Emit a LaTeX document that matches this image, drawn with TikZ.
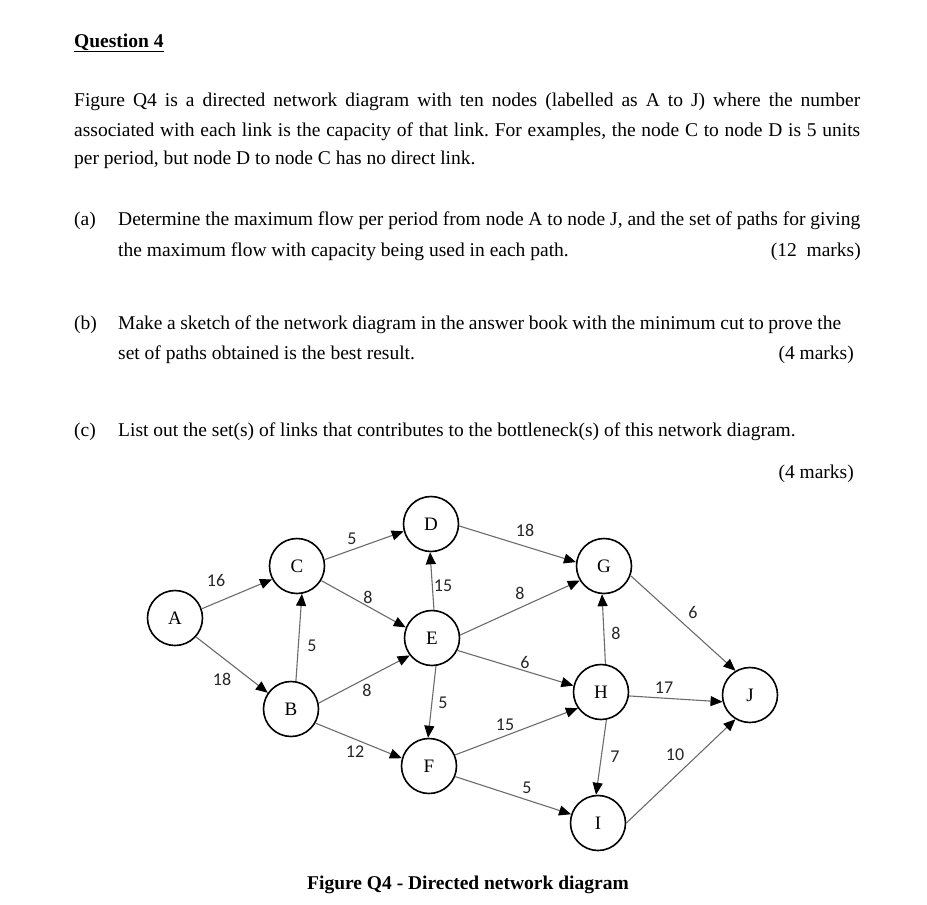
\documentclass[tikz,border=0pt]{standalone}
\usepackage{fontspec}
\setmainfont{Liberation Serif}
\newfontfamily\lblfont{Carlito}
\usetikzlibrary{arrows.meta}
\frenchspacing
\tikzset{
  vtx/.style={circle,draw=black,line width=1.6pt,minimum size=55pt,inner sep=0pt,font=\fontsize{19}{22}\selectfont},
  link/.style={draw=black!58,line width=1.1pt,-{Triangle[length=12pt,width=10pt,color=black]}},
  capl/.style={font=\lblfont\fontsize{18}{20}\selectfont,inner sep=0pt,text=black!85},
  txt/.style={anchor=base west,inner sep=0pt,font=\fontsize{19.5}{23}\selectfont},
  txtr/.style={anchor=base east,inner sep=0pt,font=\fontsize{19.5}{23}\selectfont}
}
\begin{document}
\begin{tikzpicture}[x=1pt,y=-1pt]
\useasboundingbox (0,0) rectangle (927,905);
% text
\node[txt] (q) at (74,47) {\textbf{\underline{Question 4}}};
\node[txt] (p1) at (74,106) {\makebox[786pt][s]{Figure Q4 is a directed network diagram with ten nodes (labelled as A to J) where the number}};
\node[txt] (p2) at (74,136) {\makebox[786pt][s]{associated with each link is the capacity of that link. For examples, the node C to node D is 5 units}};
\node[txt] (p3) at (74,164) {per period, but node D to node C has no direct link.};
\node[txt] (al) at (74,225) {(a)};
\node[txt] (a1) at (118,225) {\makebox[742pt][s]{Determine the maximum flow per period from node A to node J, and the set of paths for giving}};
\node[txt] (a2) at (118,256) {the maximum flow with capacity being used in each path.};
\node[txtr] (am) at (861,256) {(12\ \ marks)};
\node[txt] (bl) at (74,329) {(b)};
\node[txt] (b1) at (118,329) {\makebox[723pt][s]{Make a sketch of the network diagram in the answer book with the minimum cut to prove the}};
\node[txt] (b2) at (118,359) {set of paths obtained is the best result.};
\node[txtr] (bm) at (854,359) {(4 marks)};
\node[txt] (cl) at (74,436) {(c)};
\node[txt] (c1) at (118,436) {List out the set(s) of links that contributes to the bottleneck(s) of this network diagram.};
\node[txtr] (cm) at (854,478) {(4 marks)};
\node[anchor=base,inner sep=0pt,font=\fontsize{19.5}{23}\selectfont\bfseries] (capt) at (468,889) {Figure Q4 - Directed network diagram};
% nodes
\node[vtx] (A) at (175,618) {A};
\node[vtx] (B) at (291,709) {B};
\node[vtx] (C) at (297,566) {C};
\node[vtx] (D) at (431,524) {D};
\node[vtx] (E) at (432,638) {E};
\node[vtx] (F) at (429,766) {F};
\node[vtx] (G) at (604,566) {G};
\node[vtx] (H) at (601,692) {H};
\node[vtx] (I) at (598,823) {I};
\node[vtx] (J) at (750,695) {J};
% links
\draw[link] (A.19) -- (C.208);
\draw[link] (A.-42) -- (B.145);
\draw[link] (C.13) -- (D.195);
\draw[link] (C.-31) -- (E.158);
\draw[link] (B.80) -- (C.280);
\draw[link] (B.12) -- (E.218);
\draw[link] (B.-30) -- (F.164);
\draw[link] (E.86) -- (D.268);
\draw[link] (E.-82) -- (F.92);
\draw[link] (D.-4) -- (G.172);
\draw[link] (E.6) -- (G.211);
\draw[link] (E.-26) -- (H.167);
\draw[link] (H.81) -- (G.266);
\draw[link] (F.23) -- (H.215);
\draw[link] (F.-22) -- (I.162);
\draw[link] (H.-79) -- (I.94);
\draw[link] (G.-20) -- (J.121);
\draw[link] (H.-8) -- (J.194);
\draw[link] (I.0) -- (J.239);
% capacities
\node[capl] (lAC) at (216,580) {16};
\node[capl] (lAB) at (222,679) {18};
\node[capl] (lCD) at (352,539) {5};
\node[capl] (lCE) at (368,597) {8};
\node[capl] (lBC) at (312,646) {5};
\node[capl] (lBE) at (367,690) {8};
\node[capl] (lBF) at (355,752) {12};
\node[capl] (lED) at (443,586) {15};
\node[capl] (lEF) at (443,703) {5};
\node[capl] (lDG) at (525,530) {18};
\node[capl] (lEG) at (520,593) {8};
\node[capl] (lEH) at (525,662) {6};
\node[capl] (lHG) at (616,633) {8};
\node[capl] (lGJ) at (693,612) {6};
\node[capl] (lHJ) at (664,688) {17};
\node[capl] (lFH) at (505,725) {15};
\node[capl] (lHI) at (615,757) {7};
\node[capl] (lFI) at (527,788) {5};
\node[capl] (lIJ) at (675,755) {10};
\end{tikzpicture}
\end{document}
